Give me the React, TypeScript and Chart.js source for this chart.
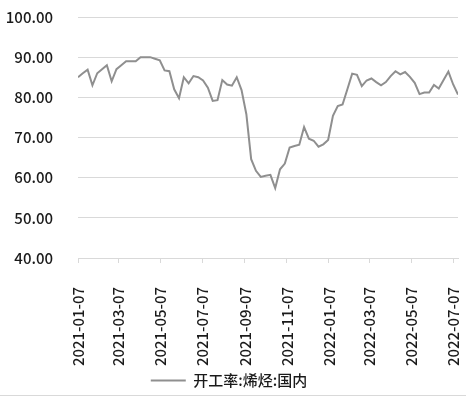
import React, { useEffect, useRef } from 'react';
import { Chart, registerables } from 'chart.js';

Chart.register(...registerables);

const startDate = '2021-01-07';
const seriesName = '开工率:烯烃:国内';
const values = [
  85.0, 86.0, 86.9, 83.0, 86.0, 87.0, 88.0, 84.0, 87.0, 88.0,
  89.0, 89.0, 89.0, 90.0, 90.0, 90.0, 89.6, 89.2, 86.7, 86.5,
  82.0, 79.8, 85.0, 83.5, 85.3, 85.0, 84.2, 82.4, 79.1, 79.3,
  84.3, 83.2, 82.9, 85.0, 81.8, 75.8, 64.6, 61.7, 60.2, 60.5,
  60.7, 57.4, 62.1, 63.5, 67.5, 67.9, 68.2, 72.6, 69.7, 69.2,
  67.7, 68.3, 69.4, 75.4, 77.8, 78.2, 82.0, 85.9, 85.6, 82.8,
  84.2, 84.7, 83.8, 83.0, 83.8, 85.3, 86.5, 85.7, 86.3, 85.1,
  83.6, 80.8, 81.2, 81.2, 83.1, 82.2, 84.3, 86.4, 83.2, 80.7,
];
const tickLabels = [
  '2021-01-07', '2021-03-07', '2021-05-07', '2021-07-07', '2021-09-07',
  '2021-11-07', '2022-01-07', '2022-03-07', '2022-05-07', '2022-07-07',
];
const yTicks = [40, 50, 60, 70, 80, 90, 100];

const DAY = 86400000;
const start = Date.parse(startDate);
const dayOf = (s: string) => Math.round((Date.parse(s) - start) / DAY);
const weekDates = values.map((_, i) => new Date(start + i * 7 * DAY).toISOString().slice(0, 10));
const FONT = "'Noto Sans CJK SC', 'Noto Sans', sans-serif";
const TEXT = '#1a1a1a';
const tickFont = { family: FONT, size: 15, weight: '500' };

export default function App() {
  const ref = useRef<HTMLCanvasElement>(null);
  useEffect(() => {
    if (!ref.current) return;
    const tickDays = tickLabels.map(dayOf);
    const labelMap: Record<number, string> = {};
    tickLabels.forEach((l) => { labelMap[dayOf(l)] = l; });
    const chart = new Chart(ref.current, {
      type: 'line',
      data: {
        datasets: [
          {
            label: seriesName,
            data: weekDates.map((d, i) => ({ x: dayOf(d), y: values[i] })),
            borderColor: '#8f8f8f',
            backgroundColor: '#8f8f8f',
            borderWidth: 2,
            pointRadius: 0,
            tension: 0,
          },
        ],
      },
      options: {
        animation: false,
        responsive: false,
        layout: { padding: { top: 17, right: 8, left: 0, bottom: 0 } },
        plugins: {
          tooltip: { enabled: false },
          legend: {
            position: 'bottom',
            labels: {
              usePointStyle: true,
              pointStyle: 'line',
              pointStyleWidth: 35,
              padding: 6,
              color: TEXT,
              font: tickFont,
            },
          },
        },
        scales: {
          x: {
            type: 'linear',
            min: 0,
            max: dayOf(weekDates[weekDates.length - 1]),
            afterBuildTicks: (scale: any) => {
              scale.ticks = tickDays.map((v) => ({ value: v }));
            },
            afterFit: (scale: any) => {
              scale.height = 109;
              scale.paddingLeft = 0;
              scale.paddingRight = 0;
            },
            ticks: {
              autoSkip: false,
              minRotation: 90,
              maxRotation: 90,
              padding: 24,
              color: TEXT,
              font: tickFont,
              callback: (v: any) => labelMap[v] ?? '',
            },
            grid: { drawOnChartArea: false, drawTicks: true, tickLength: 5, color: '#d9d9d9' },
            border: { display: true, color: '#d9d9d9' },
          },
          y: {
            min: 40,
            max: 100,
            afterBuildTicks: (scale: any) => {
              scale.ticks = yTicks.map((v) => ({ value: v }));
            },
            afterFit: (scale: any) => {
              scale.width = 78;
              scale.paddingTop = 0;
              scale.paddingBottom = 0;
            },
            ticks: {
              padding: 25,
              color: TEXT,
              font: tickFont,
              callback: (v: any) => Number(v).toFixed(2),
            },
            grid: { drawTicks: false, color: '#d9d9d9' },
            border: { display: false },
          },
        },
      },
      plugins: [
        {
          id: 'bottomLine',
          afterDraw: (c: any) => {
            const ctx = c.ctx;
            ctx.save();
            ctx.strokeStyle = '#d9d9d9';
            ctx.lineWidth = 1;
            ctx.beginPath();
            ctx.moveTo(0, 395.5);
            ctx.lineTo(c.width, 395.5);
            ctx.stroke();
            ctx.restore();
          },
        },
      ],
    } as any);
    return () => chart.destroy();
  }, []);
  return (
    <div style={{ position: 'fixed', left: 0, top: 0, width: 466, height: 398, background: '#fff' }}>
      <canvas ref={ref} width={466} height={398} style={{ width: 466, height: 398 }} />
    </div>
  );
}
